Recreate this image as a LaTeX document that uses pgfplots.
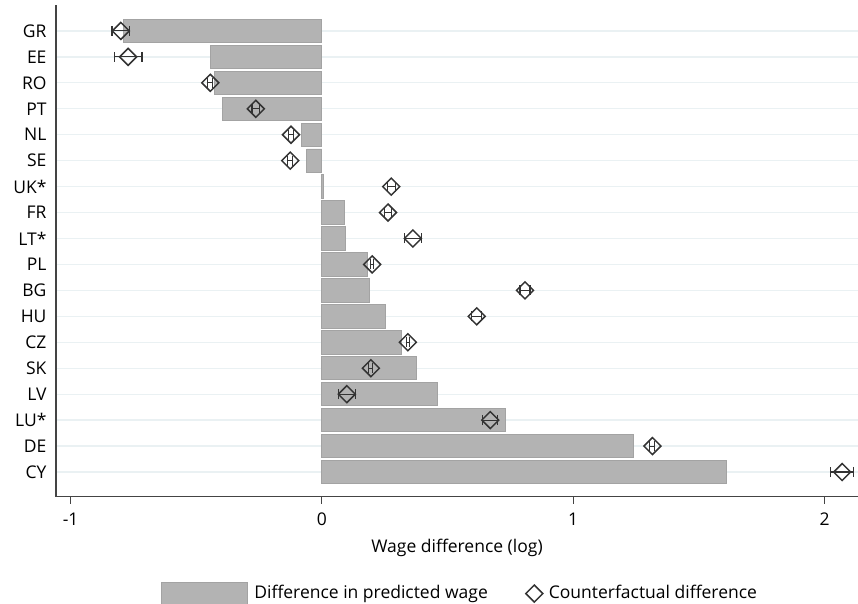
\documentclass[border=0pt]{standalone}
\usepackage{pgfplots}
\pgfplotsset{compat=1.18}
\usepackage{pgfplotstable}
\usepackage{fontspec}
\setmainfont{Open Sans}
\definecolor{barfill}{HTML}{B3B3B3}
\definecolor{baredge}{HTML}{A3A3A3}
\definecolor{mk}{HTML}{333333}
\definecolor{gridc}{HTML}{EAF1F3}
\definecolor{axc}{HTML}{444444}

\pgfplotstableread{
idx name bar cf err
17 GR -0.791 -0.800 0.035
16 EE -0.444 -0.771 0.055
15 RO -0.429 -0.444 0.010
14 PT -0.397 -0.263 0.015
13 NL -0.081 -0.123 0.010
12 SE -0.061 -0.126 0.010
11 UK* 0.006 0.276 0.015
10 FR 0.089 0.263 0.015
9 LT* 0.093 0.362 0.035
8 PL 0.182 0.200 0.005
7 BG 0.190 0.808 0.020
6 HU 0.252 0.616 0.020
5 CZ 0.318 0.342 0.005
4 SK 0.377 0.195 0.008
3 LV 0.461 0.099 0.034
2 LU* 0.732 0.670 0.030
1 DE 1.240 1.315 0.010
0 CY 1.611 2.070 0.046
}\datatable

\begin{document}
\begin{tikzpicture}
\fontsize{17.5bp}{20bp}\selectfont
\path[use as bounding box] (0,0) rectangle (858bp,604bp);
\begin{axis}[
  at={(56bp,107.3bp)}, anchor=south west,
  scale only axis, width=802bp, height=491.7bp,
  xmin=-1.058, xmax=2.133,
  ymin=-0.952, ymax=18.0,
  axis lines*=left,
  axis line style={axc, line width=1.2pt, -},
  xtick={-1,0,1,2}, xticklabels={-1,0,1,2},
  ytick={0,...,17},
  yticklabels={CY,DE,LU*,LV,SK,CZ,HU,BG,PL,LT*,FR,UK*,SE,NL,PT,RO,EE,GR},
  tick label style={font=\fontsize{17.5bp}{20bp}\selectfont},
  x tick style={axc, line width=1pt},
  y tick style={draw=none},
  tick align=outside, major tick length=7bp,
  xticklabel style={yshift=-3bp},
  yticklabel style={xshift=3.5bp},
  ymajorgrids, grid style={gridc, line width=1.3pt},
  xlabel={Wage difference (log)},
  xlabel style={font=\fontsize{17.5bp}{20bp}\selectfont, yshift=-2bp},
  legend columns=2,
  legend style={at={(0.504,-0.197)}, anchor=center, draw=none, fill=none,
    font=\fontsize{17.5bp}{20bp}\selectfont,
    /tikz/every odd column/.append style={column sep=4bp},
    /tikz/every even column/.append style={column sep=36bp}},
  clip=false,
]
\addplot[xbar, bar width=0.9, fill=barfill, draw=baredge, line width=0.9pt,
  legend image code/.code={\draw[fill=barfill, draw=baredge, line width=0.9pt] (-4bp,-11.5bp) rectangle (82bp,11.5bp);}]
  table[x=bar, y=idx] {\datatable};
\addlegendentry{Difference in predicted wage}
\addplot[only marks, mark=square, mark size=6bp,
  mark options={rotate=45, draw=mk, line width=1.5pt, fill=none},
  error bars/.cd, x dir=both, x explicit, error mark=|,
  error bar style={mk, line width=1.1pt},
  error mark options={mk, line width=1.1pt, mark size=5bp}]
  table[x=cf, y=idx, x error=err] {\datatable};
\addlegendentry{Counterfactual difference}
\end{axis}
\end{tikzpicture}
\end{document}
